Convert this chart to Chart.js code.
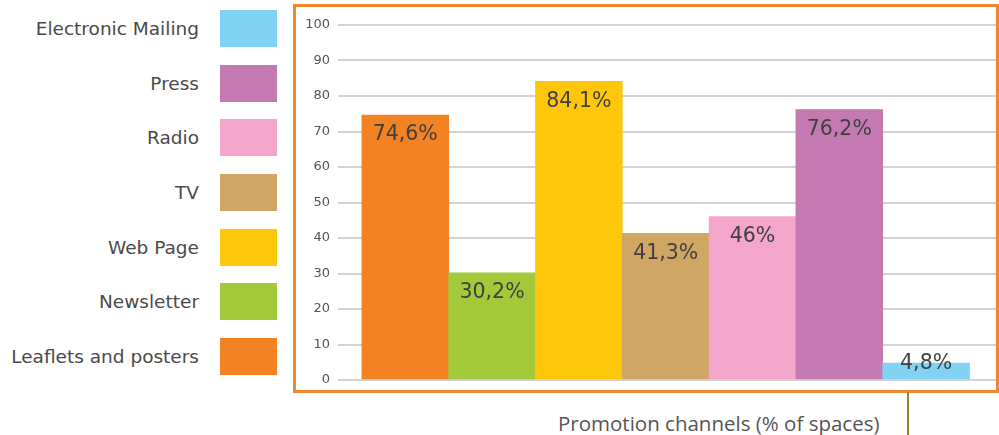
<!DOCTYPE html>
<html>
<head>
<meta charset="utf-8">
<script src="https://cdn.jsdelivr.net/npm/chart.js@4"></script>
<style>
  html, body { margin: 0; padding: 0; background: #fff; }
  body { width: 999px; height: 435px; position: relative; overflow: hidden; font-family: "DejaVu Sans", Verdana, sans-serif; }
  #legend { position: absolute; left: 0; top: 10px; width: 277px; height: 365px; display: flex; flex-direction: column; justify-content: space-between; }
  .legend-item { display: flex; align-items: center; justify-content: flex-end; height: 37px; }
  .legend-item span { font-size: 18.5px; color: #4a4a4a; margin-right: 21px; white-space: nowrap; }
  .legend-item i { display: block; width: 57px; height: 37px; }
  #frame { position: absolute; left: 293px; top: 4px; width: 700px; height: 383px; border: 3px solid #f0872c; }
  #caption { position: absolute; left: 558px; top: 409px; font-family: "Open Sans", sans-serif; font-size: 20.5px; color: #555; white-space: nowrap; }
  #tick { position: absolute; left: 907px; top: 392px; width: 2px; height: 43px; background: #8c8a2e; }
</style>
</head>
<body>
<div id="legend"></div>
<div id="frame"><canvas id="chart" width="700" height="383"></canvas></div>
<div id="caption">Promotion channels (% of spaces)</div>
<div id="tick"></div>
<script>
const categories = ["Leaflets and posters", "Newsletter", "Web Page", "TV", "Radio", "Press", "Electronic Mailing"];
const values = [74.6, 30.2, 84.1, 41.3, 46, 76.2, 4.8];
const valueLabels = ["74,6%", "30,2%", "84,1%", "41,3%", "46%", "76,2%", "4,8%"];
const colors = ["#f28222", "#a2c93a", "#ffc709", "#cfa664", "#f3a5cb", "#c579b3", "#80d3f2"];
const yTicks = [0, 10, 20, 30, 40, 50, 60, 70, 80, 90, 100];

function renderLegend() {
  const legend = document.getElementById("legend");
  categories.map((name, i) => ({ name, color: colors[i] })).reverse().forEach((item) => {
    const row = document.createElement("div");
    row.className = "legend-item";
    const label = document.createElement("span");
    label.textContent = item.name;
    const box = document.createElement("i");
    box.style.background = item.color;
    row.append(label, box);
    legend.append(row);
  });
}

// value labels sit inside the top of each bar, or on top for very short bars
const valueLabelPlugin = {
  id: "valueLabels",
  afterDatasetsDraw(chart) {
    const ctx = chart.ctx;
    const meta = chart.getDatasetMeta(0);
    ctx.save();
    ctx.font = "20.5px 'DejaVu Sans', Verdana, sans-serif";
    ctx.fillStyle = "#404040";
    ctx.textAlign = "center";
    ctx.textBaseline = "middle";
    meta.data.forEach((bar, i) => {
      const height = bar.base - bar.y;
      const y = height < 40 ? bar.y + 1 : bar.y + 20;
      ctx.fillText(valueLabels[i], bar.x, y);
    });
    ctx.restore();
  }
};

function createChart() {
  new Chart(document.getElementById("chart"), {
    type: "bar",
    data: {
      datasets: [{
        data: values.map((v, i) => ({ x: i, y: v })),
        backgroundColor: colors,
        borderWidth: 0,
        barPercentage: 1,
        categoryPercentage: 1
      }]
    },
    options: {
      responsive: false,
      animation: false,
      events: [],
      layout: { padding: { top: 18, bottom: 10, right: 0, left: 0 } },
      plugins: { legend: { display: false }, tooltip: { enabled: false } },
      scales: {
        x: {
          type: "linear",
          display: false,
          offset: false,
          min: -0.775,
          max: 6.805,
          afterBuildTicks(scale) { scale.ticks = categories.map((c, i) => ({ value: i })); }
        },
        y: {
          min: 0,
          max: 100,
          afterFit(scale) {
            scale.width = 42;
            scale.paddingTop = 0;
            scale.paddingBottom = 0;
          },
          afterBuildTicks(scale) { scale.ticks = yTicks.map((v) => ({ value: v })); },
          border: { display: false },
          grid: { color: "#d3d3d3", lineWidth: 2, drawTicks: false },
          ticks: {
            padding: 8,
            color: "#555",
            font: { family: "'DejaVu Sans', Verdana, sans-serif", size: 13 }
          }
        }
      }
    },
    plugins: [valueLabelPlugin]
  });
}

renderLegend();
createChart();
</script>
</body>
</html>
